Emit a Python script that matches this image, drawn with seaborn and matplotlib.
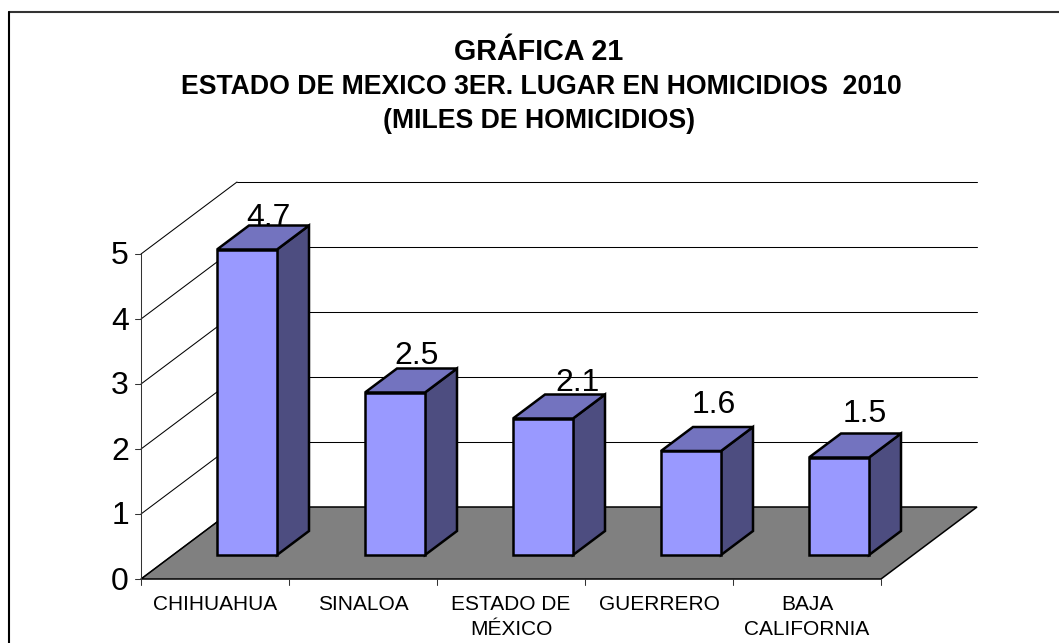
import numpy as np
import pandas as pd
import seaborn as sb
import matplotlib
matplotlib.use('Agg')
import matplotlib.pyplot as plt
from matplotlib.lines import Line2D
from matplotlib.patches import Polygon

states = ['CHIHUAHUA', 'SINALOA', 'ESTADO DE\nMÉXICO', 'GUERRERO', 'BAJA\nCALIFORNIA']
homicides = [4.7, 2.5, 2.1, 1.6, 1.5]
y_ticks = [0, 1, 2, 3, 4, 5]
title_lines = ['GRÁFICA 21',
               'ESTADO DE MEXICO 3ER. LUGAR EN HOMICIDIOS  2010',
               '(MILES DE HOMICIDIOS)']

W, H = 1059, 643
CELL = 148.0      # px per category
UNIT = 65.0       # px per 1.0 on the value axis
X0, Y0 = 141, 579  # pixel position of the axis origin
DEPTH_X = 96 / CELL
DEPTH_Y = 72 / UNIT
BAR_W = 60 / CELL
BAR_LW = 1.8
THIN_LW = 0.75

sb.set_style('white')
plt.rcParams['font.family'] = ['Liberation Sans', 'DejaVu Sans']

fig = plt.figure(figsize=(W / 100, H / 100), dpi=100)
ax = fig.add_axes([0, 0, 1, 1])

data = pd.DataFrame({'state': states, 'value': homicides})
sb.barplot(data=data, x='state', y='value', ax=ax, width=BAR_W, color='#9999FF',
           saturation=1, edgecolor='black', linewidth=BAR_LW, zorder=5)

# one full-figure axes, 1 category = CELL px and 1 unit = UNIT px
n = len(states)
ax.set_xlim(-0.5 - X0 / CELL, -0.5 + (W - X0) / CELL)
ax.set_ylim(-(H - Y0) / UNIT, Y0 / UNIT)
ax.axis('off')

xl, xr = -0.5, n - 0.5
top = max(y_ticks)

# floor
ax.add_patch(Polygon([(xl, 0), (xr, 0), (xr + DEPTH_X, DEPTH_Y), (xl + DEPTH_X, DEPTH_Y)],
                     facecolor='#808080', edgecolor='black', lw=1.1, zorder=1))

# side wall and back wall grid lines
for t in y_ticks:
    ax.plot([xl, xl + DEPTH_X], [t, t + DEPTH_Y], color='black', lw=THIN_LW, zorder=2)
    if t > 0:
        ax.plot([xl + DEPTH_X, xr + DEPTH_X], [t + DEPTH_Y, t + DEPTH_Y], color='black', lw=THIN_LW, zorder=2)
    ax.plot([xl - 6 / CELL, xl], [t, t], color='#333333', lw=THIN_LW, zorder=2)
    ax.text(xl - 12 / CELL, t - 2.5 / UNIT, str(t), ha='right', va='center', fontsize=23, color='black')
ax.plot([xl, xl], [0, top], color='#333333', lw=THIN_LW, zorder=2)

# axis ticks below the floor
for i in range(n + 1):
    ax.plot([xl + i, xl + i], [0, -6 / UNIT], color='#333333', lw=THIN_LW, zorder=2)

# move the bars back by a third of the depth, add side and top faces
shift_x, shift_y = DEPTH_X / 3, DEPTH_Y / 3
label_dx = [21, 22, 35, 23, 26]
label_dy = [24, 29, 27.5, 38, 35]
for i, bar in enumerate(ax.patches[:n]):
    bar.set_x(bar.get_x() + shift_x)
    bar.set_y(bar.get_y() + shift_y)
    x0, x1 = bar.get_x(), bar.get_x() + bar.get_width()
    y0, y1 = bar.get_y(), bar.get_y() + bar.get_height()
    ax.add_patch(Polygon([(x1, y0), (x1 + shift_x, y0 + shift_y), (x1 + shift_x, y1 + shift_y), (x1, y1)],
                         facecolor='#4D4D80', edgecolor='black', lw=BAR_LW, joinstyle='miter', zorder=4))
    ax.add_patch(Polygon([(x0, y1), (x1, y1), (x1 + shift_x, y1 + shift_y), (x0 + shift_x, y1 + shift_y)],
                         facecolor='#7373BF', edgecolor='black', lw=BAR_LW, joinstyle='miter', zorder=4))
    # labels sit behind the bar top, the first one is clipped by it
    ax.text((x0 + x1) / 2 + label_dx[i] / CELL, y1 + label_dy[i] / UNIT, str(homicides[i]),
            ha='center', va='baseline', fontsize=23, color='black', zorder=3)
    ax.text(i, -16 / UNIT, states[i], ha='center', va='top', fontsize=15, color='black',
            linespacing=1.42, zorder=3)

# chart frame: only the top and left edges are inside the picture
fig.add_artist(Line2D([9 / W, 1], [1 - 12 / H, 1 - 12 / H], color='#333333', lw=1.5))
fig.add_artist(Line2D([9 / W, 9 / W], [0, 1 - 12 / H], color='black', lw=1.5))

fig.text(538.5 / W, 1 - 60 / H, title_lines[0], ha='center', va='baseline', fontsize=20.7, fontweight='bold', color='black')
fig.text(541 / W, 1 - 94 / H, title_lines[1], ha='center', va='baseline', fontsize=19.2, fontweight='bold', color='black')
fig.text(539 / W, 1 - 128 / H, title_lines[2], ha='center', va='baseline', fontsize=19.2, fontweight='bold', color='black')

fig.savefig('out.png', dpi=100)
